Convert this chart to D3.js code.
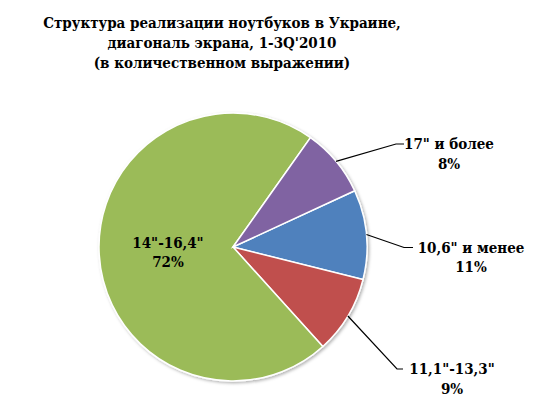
<!DOCTYPE html>
<html>
<head>
<meta charset="utf-8">
<script src="https://cdn.jsdelivr.net/npm/d3@7"></script>
<style>
  body { margin: 0; background: #fff; }
  text { font-family: "DejaVu Serif Condensed", "DejaVu Serif", serif; font-stretch: condensed; font-weight: bold; fill: #000; }
</style>
</head>
<body>
<div id="chart"></div>
<script>
(function(){

    var width = 544, height = 405;

    // data (share of units sold)
    var categories = ['10,6" и менее', '11,1"-13,3"', '14"-16,4"', '17" и более'];
    var values = [10.8, 9.4, 71.5, 8.3];
    var colors = ["#4F81BD", "#C0504D", "#9BBB59", "#8064A2"];
    var titleLines = ["Структура реализации ноутбуков в Украине,",
                      "диагональ экрана, 1-3Q'2010",
                      "(в количественном выражении)"];

    var cx = 233, cy = 247, radius = 134;
    var startDeg = 65.2;

    var svg = d3.select("#chart").append("svg")
        .attr("width", width)
        .attr("height", height);

    var defs = svg.append("defs");
    var f = defs.append("filter").attr("id", "shadow")
        .attr("x", "-10%").attr("y", "-10%").attr("width", "120%").attr("height", "120%");
    f.append("feDropShadow").attr("dx", 1.5).attr("dy", 1.5)
        .attr("stdDeviation", 1.5).attr("flood-color", "#000").attr("flood-opacity", 0.3);

    // title
    svg.append("text")
        .attr("x", 222).attr("y", 28)
        .attr("text-anchor", "middle")
        .style("font-size", "15px")
        .selectAll("tspan")
        .data(titleLines)
        .enter().append("tspan")
        .attr("x", 222)
        .attr("dy", function(d, i) { return i ? 20 : 0; })
        .text(function(d) { return d; });

    var data = categories.map(function(c, i) { return {name: c, value: values[i], color: colors[i]}; });

    var pie = d3.pie()
        .sort(null)
        .value(function(d) { return d.value; })
        .startAngle(startDeg * Math.PI / 180)
        .endAngle((startDeg + 360) * Math.PI / 180);

    var arc = d3.arc().innerRadius(0).outerRadius(radius);
    var arcs = pie(data);

    var g = svg.append("g").attr("transform", "translate(" + cx + "," + cy + ")");

    g.append("g").attr("filter", "url(#shadow)")
        .selectAll("path")
        .data(arcs)
        .enter().append("path")
        .attr("d", arc)
        .attr("fill", function(d) { return d.data.color; })
        .attr("stroke", "#fff")
        .attr("stroke-width", 1.5);

    // label layout: [elbow, line end, text centre] relative to pie centre, null = inside
    var labelPos = {
        '17" и более':   {elbow: [163, -103], end: [171, -103], text: [216, -103]},
        '10,6" и менее': {elbow: [171, 0.5],  end: [180, 0.5],  text: [238, 0.5]},
        '11,1"-13,3"':   {elbow: [164, 122],  end: [170, 122],  text: [219, 122]},
        '14"-16,4"':     null
    };

    var fmt = function(v) { return Math.round(v) + "%"; };

    arcs.forEach(function(d) {
        var lp = labelPos[d.data.name];
        var lines = [d.data.name, fmt(d.data.value)];
        var tx, ty;
        if (lp) {
            var mid = (d.startAngle + d.endAngle) / 2;
            var p0 = [Math.sin(mid) * radius, -Math.cos(mid) * radius];
            g.append("polyline")
                .attr("points", [p0, lp.elbow, lp.end].map(function(p) { return p.join(","); }).join(" "))
                .attr("fill", "none")
                .attr("stroke", "#000")
                .attr("stroke-width", 1.2);
            tx = lp.text[0]; ty = lp.text[1];
        } else {
            tx = -65; ty = -4.5;
        }
        var t = g.append("text")
            .attr("text-anchor", "middle")
            .style("font-size", "15px");
        lines.forEach(function(s, i) {
            t.append("tspan")
                .attr("x", tx)
                .attr("y", ty + 5 + i * 19.5)
                .text(s);
        });
    });

})();
</script>
</body>
</html>
